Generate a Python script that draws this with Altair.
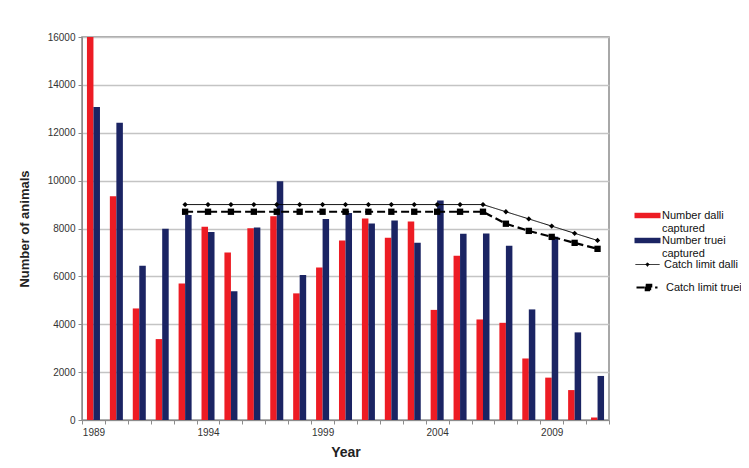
import altair as alt
import pandas as pd

years = list(range(1989, 2012))
dalli_captured = [16000, 9350, 4660, 3380, 5700, 8070, 7000, 8010, 8510, 5290, 6370, 7500,
                  8420, 7610, 8290, 4600, 6860, 4200, 4060, 2570, 1770, 1250, 100]
truei_captured = [13080, 12420, 6440, 7990, 8560, 7850, 5380, 8040, 9970, 6060, 8400, 8650,
                  8210, 8330, 7400, 9170, 7780, 7790, 7280, 4620, 7660, 3660, 1840]
limit_years = list(range(1993, 2012))
limit_dalli = [9000, 9000, 9000, 9000, 9000, 9000, 9000, 9000, 9000, 9000, 9000, 9000, 9000, 9000,
               8700, 8400, 8100, 7800, 7500]
limit_truei = [8700, 8700, 8700, 8700, 8700, 8700, 8700, 8700, 8700, 8700, 8700, 8700, 8700, 8700,
               8200, 7900, 7650, 7400, 7150]
series_names = ["Number dalli captured", "Number truei captured"]
limit_names = ["Catch limit dalli", "Catch limit truei"]
bar_colors = ["#ed1c24", "#1b2463"]
y_ticks = [0, 2000, 4000, 6000, 8000, 10000, 12000, 14000, 16000]

bars_df = pd.DataFrame({
    "year": years + years,
    "series": [series_names[0]] * len(years) + [series_names[1]] * len(years),
    "value": dalli_captured + truei_captured,
})
lim_d = pd.DataFrame({"year": limit_years, "value": limit_dalli, "name": limit_names[0]})
lim_t = pd.DataFrame({"year": limit_years, "value": limit_truei, "name": limit_names[1]})

FONT = "Liberation Sans"

x_enc = alt.X(
    "year:O",
    scale=alt.Scale(domain=years, paddingInner=0, paddingOuter=0),
    axis=alt.Axis(
        title="Year", labelAngle=0, tickBand="extent", tickSize=4, labelPadding=3,
        labelOverlap=False,
        labelExpr="(toNumber(datum.value) - 1989) % 5 == 0 ? datum.label : ''",
        titlePadding=8,
    ),
)
y_enc = alt.Y(
    "value:Q",
    scale=alt.Scale(domain=[0, 16000], nice=False),
    axis=alt.Axis(title="Number of animals", values=y_ticks, format="d", tickSize=4,
                  labelPadding=3, titlePadding=16, grid=True),
)

bars = alt.Chart(bars_df).mark_bar().encode(
    x=x_enc,
    y=y_enc,
    xOffset=alt.XOffset("series:N", scale=alt.Scale(domain=series_names, paddingOuter=0.76, paddingInner=0)),
    color=alt.Color(
        "series:N",
        scale=alt.Scale(domain=series_names, range=bar_colors),
        legend=alt.Legend(
            orient="none", legendX=559, legendY=172, title=None,
            symbolType="M-2,-0.42H2V0.42H-2Z", symbolSize=169, symbolStrokeWidth=0,
            labelExpr="[replace(datum.label, ' captured', ''), 'captured']",
            labelOffset=8, rowPadding=0,
        ),
    ),
)

line_d = alt.Chart(lim_d).mark_line(color="black", strokeWidth=1).encode(
    x=x_enc, y=y_enc,
    strokeDash=alt.StrokeDash(
        "name:N",
        scale=alt.Scale(domain=[limit_names[0]], range=[[1, 0]]),
        legend=alt.Legend(
            orient="none", legendX=559, legendY=221, title=None,
            symbolType="M-2,0H2M-0.28,0L0,-0.28L0.28,0L0,0.28Z", symbolSize=144,
            symbolFillColor="black", symbolStrokeColor="black", symbolStrokeWidth=1,
            labelOffset=10,
        ),
    ),
)
pts_d = alt.Chart(lim_d).mark_point(shape="diamond", size=28, filled=True, color="black", opacity=1).encode(
    x=x_enc, y=y_enc,
)

line_t = alt.Chart(lim_t).mark_line(color="black", strokeWidth=2.2).encode(
    x=x_enc, y=y_enc,
    strokeDash=alt.StrokeDash(
        "name:N",
        scale=alt.Scale(domain=[limit_names[1]], range=[[8, 4]]),
        legend=alt.Legend(
            orient="none", legendX=559, legendY=243, title=None,
            symbolType="M-2,0H-0.3M-0.45,-0.45H0.45V0.45H-0.45ZM1.1,0H1.5", symbolSize=144,
            symbolFillColor="black", symbolStrokeColor="black", symbolStrokeWidth=2.2,
            labelOffset=10,
        ),
    ),
)
pts_t = alt.Chart(lim_t).mark_point(shape="square", size=40, filled=True, color="black", opacity=1).encode(
    x=x_enc, y=y_enc,
)

chart = alt.layer(bars, line_d, pts_d, line_t, pts_t).resolve_scale(
    strokeDash="independent"
).properties(
    width=527, height=383,
    autosize="none",
    padding={"left": 74, "top": 29, "right": 132, "bottom": 39},
    background="white",
).configure_view(
    stroke="#8c8c8c", strokeWidth=1.5,
).configure_axis(
    labelFont=FONT, labelFontSize=10, labelColor="#333333",
    titleFont=FONT, titleFontSize=13, titleFontWeight="bold", titleColor="#222222",
    domainColor="#8c8c8c", tickColor="#8c8c8c", gridColor="#c4c4c4", gridWidth=1.5,
).configure_axisX(
    titleFontSize=14,
).configure_legend(
    labelFont=FONT, labelFontSize=11, labelColor="#111111", labelLimit=200,
)

chart.save("out.html", embed_options={"renderer": "svg", "actions": False})
